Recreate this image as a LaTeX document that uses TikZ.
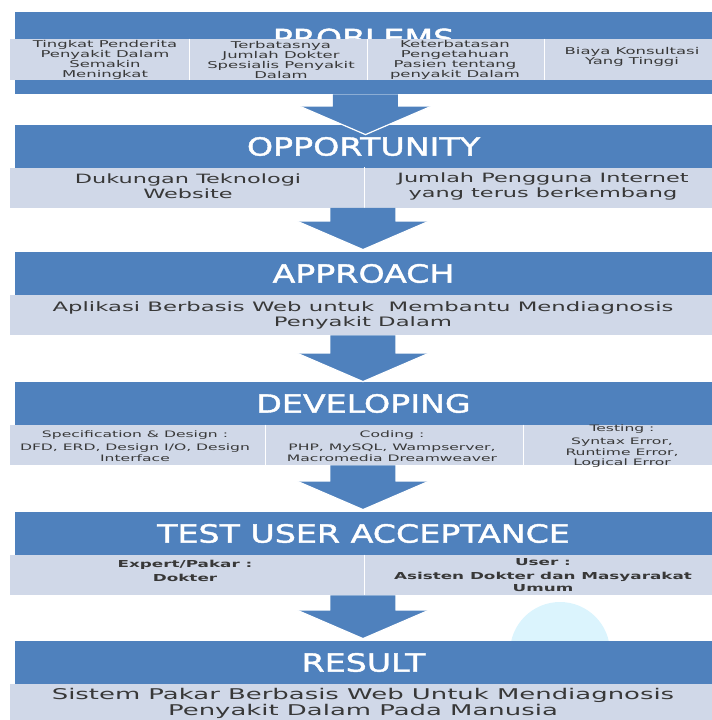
\documentclass[tikz,border=0pt]{standalone}
\usepackage{fontspec}
\setmainfont{DejaVu Sans}
\newfontfamily\headfont{DejaVu Sans}[FakeStretch=1.33, FakeBold=1.6]
\newfontfamily\cellfont{DejaVu Sans}[FakeStretch=1.75]
\usetikzlibrary{calc, positioning}

\definecolor{bandblue}{RGB}{79,129,189}
\definecolor{rowgrey}{RGB}{208,216,232}
\definecolor{celltext}{RGB}{56,56,56}

% big block arrow from one section to the next: source, target, tip overlap
\newcommand{\flowarrow}[3]{%
  \fill[bandblue] let \p1=(#1.south), \p2=(#2.north) in
    (\x1-15.25pt,\y1) -- (\x1+17.25pt,\y1) -- (\x1+17.25pt,\y2+14pt-#3)
    -- (\x1+33.5pt,\y2+14pt-#3) -- (\x1+1pt,\y2-#3)
    -- (\x1-31.5pt,\y2+14pt-#3) -- (\x1-15.25pt,\y2+14pt-#3) -- cycle;
  \draw[white, line width=0.6pt] let \p1=(#1.south), \p2=(#2.north) in
    (\x1+33.5pt,\y2+14pt-#3) -- (\x1+1pt,\y2-#3) -- (\x1-31.5pt,\y2+14pt-#3);
}

\begin{document}
\begin{tikzpicture}[x=0.5pt, y=-0.5pt,
    band/.style={rectangle, fill=bandblue, inner sep=0pt, minimum width=348.5pt,
      minimum height=21.5pt, text=white, font=\headfont\fontsize{12.5}{14}\selectfont},
    row/.style={rectangle, fill=rowgrey, inner sep=0pt, minimum width=351pt, minimum height=20pt},
    cell/.style={align=center, inner sep=0pt, text=celltext},
    sep/.style={white, line width=0.8pt}]
    \useasboundingbox (0,0) rectangle (712,720);

    % faint blob in the background
    \fill[cyan!14] (560,652) circle (25pt);

    % problems
    \node[band, minimum height=41pt] (prob) at (363.5,53) {};
    \node[text=white, inner sep=0pt, font=\headfont\fontsize{12.5}{14}\selectfont] (probT) at (363.5,38) {PROBLEMS};
    \node[row, minimum height=20.5pt] (probR) at (361,59.5) {};
    \draw[sep] ($(probR.north west)+(180,0)$) -- ($(probR.south west)+(180,0)$);
    \draw[sep] ($(probR.north west)+(358,0)$) -- ($(probR.south west)+(358,0)$);
    \draw[sep] ($(probR.north west)+(535,0)$) -- ($(probR.south west)+(535,0)$);
    \node[cell, font=\cellfont\fontsize{4.7}{4.95}\selectfont] (prob1) at (105,60) {Tingkat Penderita\\Penyakit Dalam\\Semakin\\Meningkat};
    \node[cell, font=\cellfont\fontsize{4.7}{4.95}\selectfont] (prob2) at (281,60) {Terbatasnya\\Jumlah Dokter\\Spesialis Penyakit\\Dalam};
    \node[cell, font=\cellfont\fontsize{4.7}{4.95}\selectfont] (prob3) at (455,60) {Keterbatasan\\Pengetahuan\\Pasien tentang\\penyakit Dalam};
    \node[cell, font=\cellfont\fontsize{4.7}{4.95}\selectfont] (prob4) at (632,57) {Biaya Konsultasi\\Yang Tinggi};

    % opportunity
    \node[band] (opp) at (363.5,146.5) {OPPORTUNITY};
    \node[row] (oppR) at (361,187.5) {};
    \draw[sep] ($(oppR.north west)+(355,0)$) -- ($(oppR.south west)+(355,0)$);
    \node[cell, font=\cellfont\fontsize{6.4}{7.5}\selectfont] (opp1) at (188,186) {Dukungan Teknologi\\Website};
    \node[cell, font=\cellfont\fontsize{6.4}{7.5}\selectfont] (opp2) at (543,186) {Jumlah Pengguna Internet\\yang terus berkembang};

    % approach
    \node[band] (app) at (363.5,273.5) {APPROACH};
    \node[row] (appR) at (361,315) {};
    \node[cell, font=\cellfont\fontsize{6.5}{7.5}\selectfont] (app1) at (363,315) {Aplikasi Berbasis Web untuk\ \ Membantu Mendiagnosis\\Penyakit Dalam};

    % developing
    \node[band] (dev) at (363.5,403.5) {DEVELOPING};
    \node[row] (devR) at (361,445) {};
    \draw[sep] ($(devR.north west)+(256,0)$) -- ($(devR.south west)+(256,0)$);
    \draw[sep] ($(devR.north west)+(514,0)$) -- ($(devR.south west)+(514,0)$);
    \node[cell, font=\cellfont\fontsize{4.45}{5.2}\selectfont] (dev1) at (135,446) {Specification \& Design :\\[1.5pt]DFD, ERD, Design I/O, Design\\Interface};
    \node[cell, font=\cellfont\fontsize{4.45}{5.2}\selectfont] (dev2) at (392,446) {Coding :\\[1.5pt]PHP, MySQL, Wampserver,\\Macromedia Dreamweaver};
    \node[cell, font=\cellfont\fontsize{4.45}{5.2}\selectfont] (dev3) at (622,446) {Testing :\\[1.5pt]Syntax Error,\\Runtime Error,\\Logical Error};

    % test user acceptance
    \node[band] (tua) at (363.5,533.5) {TEST USER ACCEPTANCE};
    \node[row] (tuaR) at (361,575) {};
    \draw[sep] ($(tuaR.north west)+(355,0)$) -- ($(tuaR.south west)+(355,0)$);
    \node[cell, font=\cellfont\bfseries\fontsize{4.8}{5.6}\selectfont] (tua1) at (185,571) {Expert/Pakar :\\[1.5pt]Dokter};
    \node[cell, font=\cellfont\bfseries\fontsize{4.8}{5.6}\selectfont] (tua2) at (543,575) {User :\\[1.5pt]Asisten Dokter dan Masyarakat\\Umum};

    % result
    \node[band] (res) at (363.5,662.5) {RESULT};
    \node[row] (resR) at (361,704) {};
    \node[cell, font=\cellfont\fontsize{7.4}{8}\selectfont] (res1) at (363,703) {Sistem Pakar Berbasis Web Untuk Mendiagnosis\\Penyakit Dalam Pada Manusia};

    % arrows between the sections
    \flowarrow{prob}{opp}{5pt}
    \flowarrow{oppR}{app}{-1pt}
    \flowarrow{appR}{dev}{0pt}
    \flowarrow{devR}{tua}{-1pt}
    \flowarrow{tuaR}{res}{-1pt}
\end{tikzpicture}
\end{document}
